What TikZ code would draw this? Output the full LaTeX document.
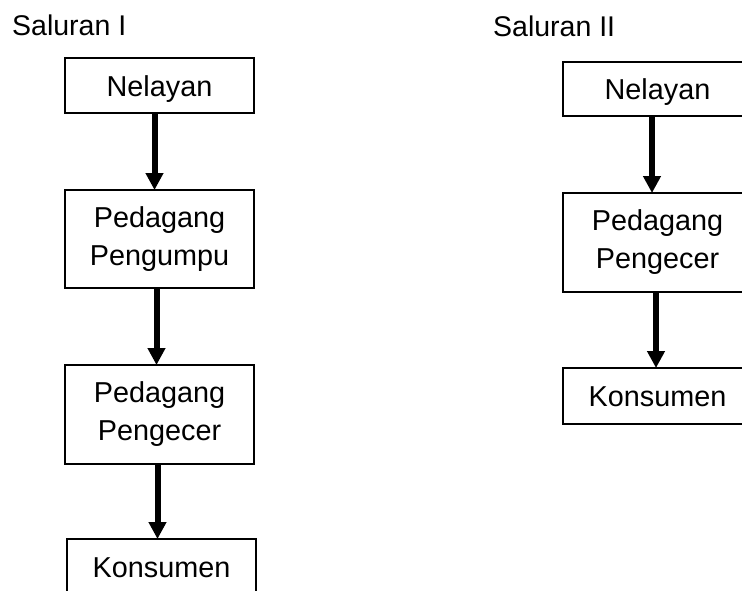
\documentclass[tikz,border=0pt]{standalone}
\usepackage{fontspec}
\setmainfont{Liberation Sans}
\usetikzlibrary{arrows.meta}
\begin{document}
\begin{tikzpicture}[x=1pt,y=-1pt,
  box/.style={draw=black,line width=2pt,minimum width=189pt,inner sep=0pt,outer sep=0pt,align=center,
     font=\fontsize{28.8pt}{38pt}\selectfont},
  one/.style={text height=21pt,text depth=0pt},
  flow/.style={line width=6pt,-{Triangle[width=17pt,length=17pt]}},
  ttl/.style={anchor=base west,inner sep=0pt,font=\fontsize{28.5pt}{34pt}\selectfont}]
\useasboundingbox (0,0) rectangle (742,590);
\clip (0,0) rectangle (742,590);
\fill[white] (0,0) rectangle (742,590);
\node[ttl] (t1) at (12,35) {Saluran I};
\node[ttl] (t2) at (493,36) {Saluran II};
% left column
\node[box,one,minimum height=55pt] (n1) at (159.5,85.5) {Nelayan};
\node[box,minimum height=98pt] (p1) at (159.5,239) {Pedagang\\Pengumpu};
\node[box,minimum height=99pt] (e1) at (159.5,414.5) {Pedagang\\Pengecer};
\node[box,one,minimum height=55pt] (k1) at (161.5,566.5) {Konsumen};
\draw[flow] ([xshift=-5pt]n1.south) -- ([xshift=-5pt]p1.north);
\draw[flow] ([xshift=-3pt]p1.south) -- ([xshift=-3pt]p1.south |- e1.north);
\draw[flow] ([xshift=-2pt]e1.south) -- ([xshift=-2pt]e1.south |- k1.north);
% right column
\node[box,one,minimum height=54pt] (n2) at (657.5,89) {Nelayan};
\node[box,minimum height=99pt] (p2) at (657.5,242.5) {Pedagang\\Pengecer};
\node[box,one,minimum height=56pt] (k2) at (657.5,396) {Konsumen};
\draw[flow] ([xshift=-5.5pt]n2.south) -- ([xshift=-5.5pt]p2.north);
\draw[flow] ([xshift=-1.5pt]p2.south) -- ([xshift=-1.5pt]k2.north);
\end{tikzpicture}
\end{document}
